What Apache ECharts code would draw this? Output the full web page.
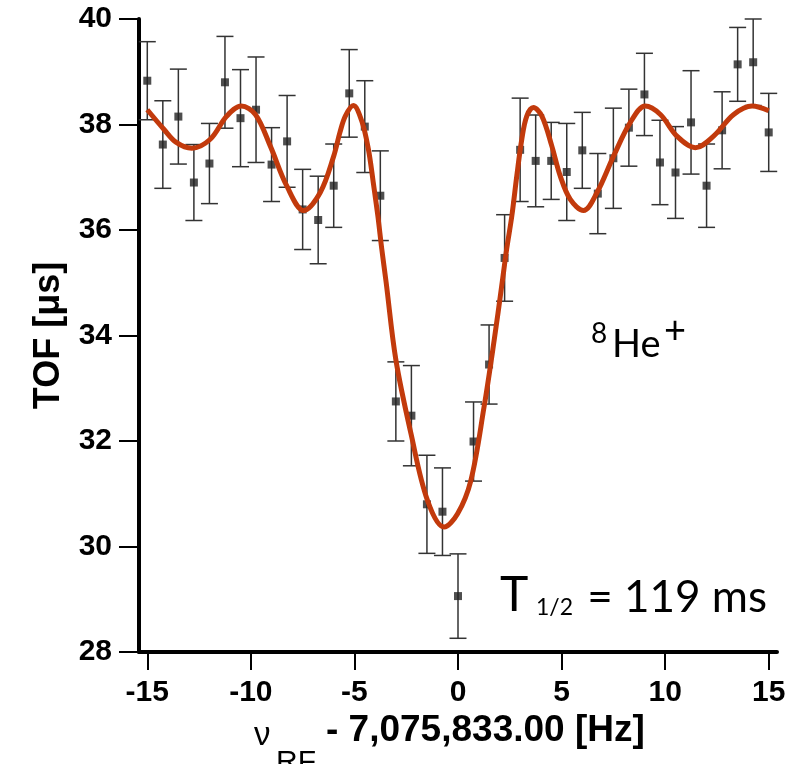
<!DOCTYPE html>
<html>
<head>
<meta charset="utf-8">
<script src="https://cdn.jsdelivr.net/npm/echarts@6/dist/echarts.min.js"></script>
<style>
  html, body { margin: 0; padding: 0; background: #ffffff; }
  #main { width: 810px; height: 764px; }
</style>
</head>
<body>
<div id="main"></div>
<script>
// measured points: RF offset [Hz], TOF [us], error bar half-length
var freq = [-15, -14.25, -13.5, -12.75, -12, -11.25, -10.5, -9.75, -9, -8.25,
  -7.5, -6.75, -6, -5.25, -4.5, -3.75, -3, -2.25, -1.5, -0.75,
  0, 0.75, 1.5, 2.25, 3, 3.75, 4.5, 5.25, 6, 6.75,
  7.5, 8.25, 9, 9.75, 10.5, 11.25, 12, 12.75, 13.5, 14.25, 15];
var tof = [38.83, 37.62, 38.15, 36.9, 37.26, 38.8, 38.12, 38.28, 37.24, 37.68,
  36.39, 36.19, 36.84, 38.59, 37.96, 36.65, 32.75, 32.48, 30.8, 30.66,
  29.06, 31.99, 33.45, 35.47, 37.52, 37.31, 37.31, 37.1, 37.51, 36.69,
  37.36, 37.94, 38.57, 37.28, 37.09, 38.04, 36.84, 37.89, 39.14, 39.18, 37.85];
var tofErr = [0.74, 0.83, 0.9, 0.72, 0.76, 0.87, 0.92, 1.0, 0.7, 0.87,
  0.76, 0.83, 0.79, 0.83, 0.87, 0.85, 0.75, 0.95, 0.93, 0.83,
  0.8, 0.75, 0.75, 0.82, 0.98, 0.87, 0.73, 0.92, 0.72, 0.76,
  0.95, 0.73, 0.78, 0.8, 0.87, 0.98, 0.79, 0.73, 0.7, 0.82, 0.74];

// fitted line shape
var fitX = [-15, -14.2, -13.6, -12.85, -11.96, -11.16, -10.46, -9.78, -9.06, -8.26,
  -7.45, -6.65, -6.0, -5.7, -5.44, -5.05, -4.65, -4.33, -4.09, -3.87,
  -3.68, -3.47, -3.0, -2.27, -1.47, -0.67, -0.02, 0.62, 1.26, 1.75,
  2.11, 2.35, 2.6, 2.84, 3.08, 3.32, 3.64, 4.05, 4.53, 4.93,
  5.42, 6.06, 6.71, 7.51, 8.32, 9.04, 9.77, 10.57, 11.46, 12.34,
  13.31, 14.2, 15];
var fitY = [38.28, 37.91, 37.66, 37.55, 37.72, 38.16, 38.35, 38.19, 37.59, 36.83,
  36.37, 36.71, 37.4, 37.85, 38.16, 38.36, 38.07, 37.54, 36.9, 36.27,
  35.64, 35.01, 33.54, 32.14, 30.87, 30.37, 30.62, 31.25, 32.65, 33.92,
  34.94, 35.64, 36.27, 37.03, 37.72, 38.16, 38.32, 38.16, 37.59, 37.03,
  36.58, 36.37, 36.71, 37.4, 38.04, 38.35, 38.19, 37.78, 37.56, 37.78,
  38.19, 38.35, 38.26];

var xTicks = [-15, -10, -5, 0, 5, 10, 15];

var pts = [];
for (var i = 0; i < freq.length; i++) {
  pts.push([freq[i], tof[i], tofErr[i]]);
}
var fit = [];
for (var j = 0; j < fitX.length; j++) {
  fit.push([fitX[j], fitY[j]]);
}

var myChart = echarts.init(document.getElementById("main"));
myChart.setOption({
  animation: false,
  backgroundColor: "#ffffff",
  grid: {
    left: 139,
    right: 33,
    top: 19,
    bottom: 112,
    containLabel: false,
    outerBoundsMode: "none"
  },
  xAxis: {
    type: "value",
    min: -15.4,
    max: 15.4,
    axisLine: { show: true, onZero: false, lineStyle: { color: "#000", width: 4 } },
    axisTick: { show: true, customValues: xTicks, length: 18, lineStyle: { color: "#000", width: 2 } },
    axisLabel: {
      customValues: xTicks,
      margin: 26,
      fontFamily: "Liberation Sans",
      fontWeight: "bold",
      fontSize: 30,
      color: "#000"
    },
    splitLine: { show: false }
  },
  yAxis: {
    type: "value",
    min: 28,
    max: 40,
    interval: 2,
    name: "TOF [μs]",
    nameLocation: "middle",
    nameGap: 72,
    nameTextStyle: { fontFamily: "Liberation Sans", fontWeight: "bold", fontSize: 36, color: "#000" },
    axisLine: { show: true, onZero: false, lineStyle: { color: "#000", width: 4 } },
    axisTick: { show: true, length: 20, lineStyle: { color: "#000", width: 2 } },
    axisLabel: {
      margin: 27,
      fontFamily: "Liberation Sans",
      fontWeight: "bold",
      fontSize: 30,
      color: "#000"
    },
    splitLine: { show: false }
  },
  series: [
    {
      // error bars
      type: "custom",
      data: pts,
      z: 2,
      renderItem: function (params, api) {
        var x = api.value(0);
        var y = api.value(1);
        var e = api.value(2);
        var hi = api.coord([x, y + e]);
        var lo = api.coord([x, y - e]);
        var hw = 8.5;
        var st = { stroke: "#333", lineWidth: 1.5 };
        return {
          type: "group",
          children: [
            { type: "line", shape: { x1: hi[0], y1: hi[1], x2: lo[0], y2: lo[1] }, style: st },
            { type: "line", shape: { x1: hi[0] - hw, y1: hi[1], x2: hi[0] + hw, y2: hi[1] }, style: st },
            { type: "line", shape: { x1: lo[0] - hw, y1: lo[1], x2: lo[0] + hw, y2: lo[1] }, style: st }
          ]
        };
      }
    },
    {
      type: "scatter",
      data: pts,
      symbol: "rect",
      symbolSize: 8,
      z: 3,
      itemStyle: { color: "#222" }
    },
    {
      type: "line",
      data: fit,
      smooth: 0.35,
      showSymbol: false,
      z: 4,
      lineStyle: { color: "#c23a0c", width: 5 }
    }
  ],
  graphic: [
    // x axis title, in pieces for the subscript
    { type: "text", style: { x: 254, y: 736, text: "ν", font: "33px 'Liberation Sans'", fill: "#000", verticalAlign: "middle" } },
    { type: "text", style: { x: 276, y: 763, text: "RF", font: "30px 'Liberation Sans'", fill: "#000", verticalAlign: "middle" } },
    { type: "text", style: { x: 326, y: 731, text: "- 7,075,833.00 [Hz]", font: "bold 37px 'Liberation Sans'", fill: "#000", verticalAlign: "middle" } },
    // labels in the plot
    { type: "text", left: 591, top: 320, style: { text: "8", font: "28px Lato", fill: "#000" } },
    { type: "text", left: 612, top: 326, style: { text: "He", font: "38px Lato", fill: "#000" } },
    { type: "text", left: 664, top: 312, style: { text: "+", font: "38px Lato", fill: "#000" } },
    { type: "text", left: 500, top: 572, style: { text: "T", font: "48px Lato", fill: "#000" } },
    { type: "text", left: 536, top: 596, style: { text: "1/2", font: "23px Lato", fill: "#000" } },
    { type: "text", right: 43, top: 576, style: { text: "= 119 ms", font: "44px Lato", fill: "#000" } }
  ]
});
</script>
</body>
</html>
